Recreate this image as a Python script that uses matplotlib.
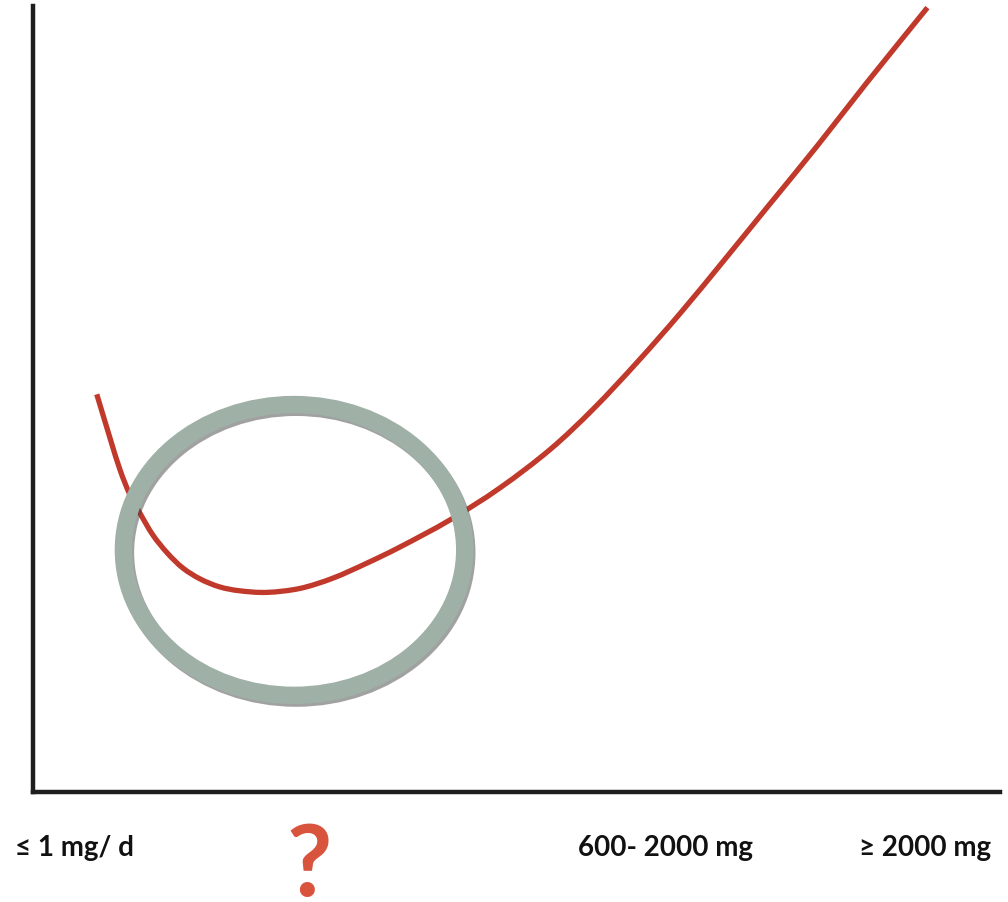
import numpy as np
import matplotlib
matplotlib.use('Agg')
import matplotlib.pyplot as plt
from matplotlib.patches import Ellipse, PathPatch
from matplotlib.path import Path
import matplotlib.patheffects as pe

plt.rcParams['font.family'] = ['Lato', 'DejaVu Sans']

# dose (x) vs risk (y), arbitrary units
dose = [6.6, 8.0, 9.0, 10.0, 11.1, 12.4, 13.9, 15.5, 17.3, 19.3, 21.4, 24.2, 27.6,
        31.0, 34.5, 38.0, 43.1, 48.3, 53.5, 58.0, 62.5, 67.0, 71.5, 76.0, 81.1,
        86.2, 92.5]
risk = [50.6, 44.9, 41.0, 37.9, 35.4, 32.7, 30.4, 28.5, 27.1, 26.1, 25.6, 25.4, 25.9,
        27.2, 29.1, 31.2, 34.6, 38.7, 43.6, 48.8, 54.7, 61.0, 67.7, 74.5, 82.2,
        90.2, 99.8]

# region of interest (ring)
ring_center = (27.0, 30.8)
ring_size = (35.3, 37.0)

labels = ['≤ 1 mg/ d', '?', '600- 2000 mg', '≥ 2000 mg']
label_pos = [4.3, 28.6, 65.4, 92.3]


def smooth_path(xs, ys):
    # catmull-rom through the points, drawn as bezier segments
    P = np.column_stack([xs, ys])
    n = len(P)
    verts = [P[0]]
    codes = [Path.MOVETO]
    for i in range(n - 1):
        p0 = P[i - 1] if i > 0 else P[i]
        p1, p2 = P[i], P[i + 1]
        p3 = P[i + 2] if i + 2 < n else P[i + 1]
        verts += [p1 + (p2 - p0) / 6, p2 - (p3 - p1) / 6, p2]
        codes += [Path.CURVE4] * 3
    return Path(verts, codes)


fig = plt.figure(figsize=(10.08, 9.03), dpi=100)
ax = fig.add_axes([0.0327, 0.1218, 0.9593, 0.8704])
ax.set_xlim(0, 100)
ax.set_ylim(0, 100)

curve = PathPatch(smooth_path(dose, risk), fill=False, edgecolor='#c0392b', lw=3.8,
                  capstyle='butt', zorder=2)
ax.add_patch(curve)

ring = Ellipse(ring_center, ring_size[0], ring_size[1], fill=False,
               edgecolor='#9fb0a6', lw=12.5, zorder=3)
ring.set_path_effects([pe.SimpleLineShadow(offset=(1.5, -2), shadow_color='#444444', alpha=0.5),
                       pe.Normal()])
ax.add_patch(ring)

for s in ['top', 'right']:
    ax.spines[s].set_visible(False)
for s in ['left', 'bottom']:
    ax.spines[s].set_linewidth(3.2)
    ax.spines[s].set_color('#1e1e1e')
ax.set_xticks([])
ax.set_yticks([])

trans = ax.get_xaxis_transform()
for lab, x in zip(labels, label_pos):
    if lab == '?':
        ax.text(x, -0.131, lab, transform=trans, ha='center', va='baseline',
                fontsize=71, fontweight='bold', color='#d9543c')
    else:
        ax.text(x, -0.070, lab, transform=trans, ha='center', va='center',
                fontsize=20, fontweight='bold', color='#111111')

fig.savefig('out.png', dpi=100)
